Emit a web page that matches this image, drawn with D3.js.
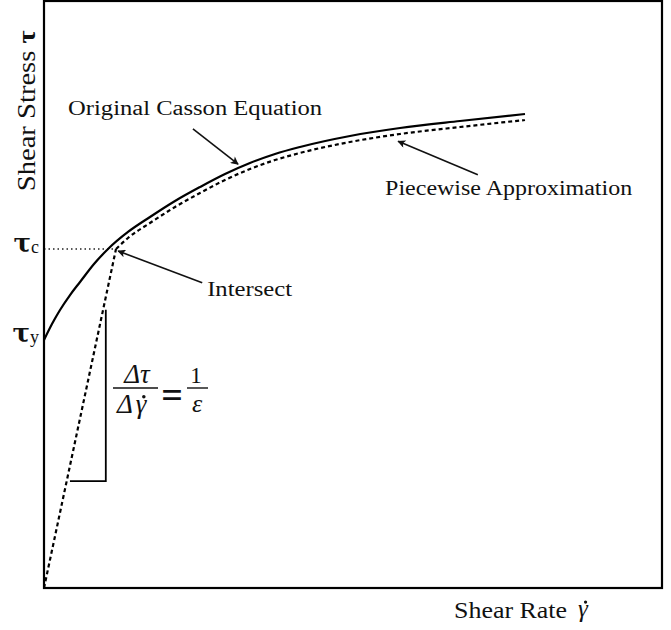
<!DOCTYPE html>
<html>
<head>
<meta charset="utf-8">
<script src="https://cdn.jsdelivr.net/npm/d3@7"></script>
<style>
  html, body { margin: 0; padding: 0; background: #fff; }
  svg { display: block; }
  text { font-family: "Liberation Serif", "Times New Roman", serif; fill: #111; }
</style>
</head>
<body>
<svg id="chart" width="671" height="630"></svg>
<script>
// Shear rate (x) and shear stress (y) in relative units, 0..100
const cassonRate   = [0, 1.29, 2.59, 4.21, 5.83, 8.09, 10.36, 13.59, 17.15, 21.20, 25.24, 29.29, 33.33, 37.38, 41.42, 49.51, 57.61, 67.31, 77.83];
const cassonStress = [42.25, 44.97, 47.36, 49.91, 52.13, 55.20, 57.75, 60.65, 63.20, 65.93, 68.31, 70.53, 72.40, 73.94, 75.13, 77.00, 78.36, 79.56, 80.75];

// Piecewise approximation: linear branch up to the intersect, then the curve
const pieceRate   = [0, 11.65, 13.59, 17.15, 21.20, 25.24, 29.29, 33.33, 37.38, 41.42, 49.51, 57.61, 67.31, 77.83];
const pieceStress = [0, 57.75, 59.63, 62.18, 64.91, 67.29, 69.51, 71.38, 72.91, 74.11, 75.98, 77.34, 78.53, 79.73];

// Named stress levels on the y axis
const tauValues = [42.25, 57.75];
const tauSubs   = ["y", "c"];

// Slope triangle on the linear branch
const triRate   = [4.2, 10.0, 10.0];
const triStress = [18.2, 18.2, 47.4];

const svg = d3.select("#chart");
const plotLeft = 44, plotRight = 662, plotTop = 1, plotBottom = 588;

const x = d3.scaleLinear().domain([0, 100]).range([plotLeft, plotRight]);
const y = d3.scaleLinear().domain([0, 100]).range([plotBottom, plotTop]);

// Arrow marker
svg.append("defs").append("marker")
  .attr("id", "arrow")
  .attr("viewBox", "0 0 10 10")
  .attr("refX", 9).attr("refY", 5)
  .attr("markerWidth", 11).attr("markerHeight", 8)
  .attr("markerUnits", "userSpaceOnUse")
  .attr("orient", "auto")
  .append("path").attr("d", "M0,0 L10,5 L0,10 L2.5,5 Z").attr("fill", "#111");

// Dotted guide from the axis to the intersect
svg.append("line")
  .attr("x1", x(0)).attr("x2", x(pieceRate[1]))
  .attr("y1", y(tauValues[1])).attr("y2", y(tauValues[1]))
  .attr("stroke", "#222").attr("stroke-width", 1.3)
  .attr("stroke-dasharray", "1.5,3");

// Original Casson curve
const casson = cassonRate.map((r, i) => [r, cassonStress[i]]);
svg.append("path")
  .datum(casson)
  .attr("fill", "none").attr("stroke", "#000").attr("stroke-width", 2.2)
  .attr("d", d3.line().x(d => x(d[0])).y(d => y(d[1])).curve(d3.curveMonotoneX));

// Piecewise approximation: straight segment, then curved part
const piece = pieceRate.map((r, i) => [r, pieceStress[i]]);
svg.append("path")
  .datum(piece.slice(0, 2))
  .attr("fill", "none").attr("stroke", "#000").attr("stroke-width", 2.2)
  .attr("stroke-dasharray", "4,3")
  .attr("d", d3.line().x(d => x(d[0])).y(d => y(d[1])));
svg.append("path")
  .datum(piece.slice(1))
  .attr("fill", "none").attr("stroke", "#000").attr("stroke-width", 2.2)
  .attr("stroke-dasharray", "4,3")
  .attr("d", d3.line().x(d => x(d[0])).y(d => y(d[1])).curve(d3.curveMonotoneX));

// Slope triangle
svg.append("path")
  .datum(triRate.map((r, i) => [r, triStress[i]]))
  .attr("fill", "none").attr("stroke", "#000").attr("stroke-width", 1.8)
  .attr("d", d3.line().x(d => x(d[0])).y(d => y(d[1])));

// Frame
svg.append("rect")
  .attr("x", plotLeft).attr("y", plotTop)
  .attr("width", plotRight - plotLeft).attr("height", plotBottom - plotTop)
  .attr("fill", "none").attr("stroke", "#000").attr("stroke-width", 2.2);

// Y axis: named stress levels
const yAxis = svg.append("g")
  .attr("transform", `translate(${plotLeft},0)`)
  .call(d3.axisLeft(y).tickValues(tauValues).tickSize(0).tickPadding(5).tickFormat(""));
yAxis.select(".domain").remove();
yAxis.selectAll(".tick text").each(function(d, i) {
  const t = d3.select(this)
    .attr("text-anchor", "end")
    .attr("dy", null)
    .attr("y", 2);
  t.append("tspan").text("τ").style("font-size", "26px").style("font-family", "DejaVu Serif").style("font-weight", "bold");
  t.append("tspan").text(tauSubs[i]).style("font-size", "18px").attr("dy", 1);
});

// Axis titles
const yt = svg.append("text")
  .attr("transform", `translate(35, ${y(81.3)}) rotate(-90)`)
  .attr("text-anchor", "middle")
  .style("font-size", "25px")
  .attr("textLength", 161).attr("lengthAdjust", "spacingAndGlyphs");
yt.append("tspan").text("Shear Stress ");
yt.append("tspan").text("τ").style("font-weight", "bold");

svg.append("text")
  .attr("x", 454).attr("y", 618)
  .style("font-size", "24px")
  .attr("textLength", 113).attr("lengthAdjust", "spacingAndGlyphs")
  .text("Shear Rate");

// Italic gamma with an overdot (rate symbol)
function gammaDot(g, cx, baseline, size) {
  const t = g.append("text")
    .attr("x", cx).attr("y", baseline).attr("text-anchor", "middle")
    .style("font-size", size + "px").style("font-style", "italic")
    .text("γ");
  const b = t.node().getBBox();
  g.append("circle")
    .attr("cx", b.x + b.width * 0.68)
    .attr("cy", baseline - size * 0.6)
    .attr("r", size * 0.065)
    .attr("fill", "#111");
}
gammaDot(svg, 583, 617, 25);

// Annotations
const notes = [
  { text: "Original Casson Equation", tx: 3.9, ty: 80.6, w: 254, a: [24.1, 78.2, 31.4, 72.2] },
  { text: "Piecewise Approximation", tx: 55.2, ty: 67.0, w: 247, a: [70.2, 70.4, 57.3, 76.1] },
  { text: "Intersect", tx: 26.4, ty: 49.7, w: 85, a: [25.6, 52.0, 12.0, 57.4] }
];
notes.forEach(n => {
  svg.append("text")
    .attr("x", x(n.tx)).attr("y", y(n.ty))
    .style("font-size", "20px")
    .attr("textLength", n.w).attr("lengthAdjust", "spacingAndGlyphs")
    .text(n.text);
  svg.append("line")
    .attr("x1", x(n.a[0])).attr("y1", y(n.a[1]))
    .attr("x2", x(n.a[2])).attr("y2", y(n.a[3]))
    .attr("stroke", "#111").attr("stroke-width", 1.6)
    .attr("marker-end", "url(#arrow)");
});

// Slope formula  Δτ/Δγ̇ = 1/ε
const f = svg.append("g");
f.append("text").attr("x", 137).attr("y", 383).attr("text-anchor", "middle")
  .style("font-size", "27px").style("font-style", "italic").text("Δτ");
f.append("line").attr("x1", 113).attr("x2", 158).attr("y1", 388).attr("y2", 388)
  .attr("stroke", "#111").attr("stroke-width", 1.4);
f.append("text").attr("x", 125).attr("y", 413).attr("text-anchor", "middle")
  .style("font-size", "27px").style("font-style", "italic").text("Δ");
gammaDot(f, 141, 413, 27);
f.append("text").attr("x", 172).attr("y", 408).attr("text-anchor", "middle")
  .style("font-size", "38px").style("font-weight", "bold").text("=");
f.append("text").attr("x", 196).attr("y", 383).attr("text-anchor", "middle")
  .style("font-size", "23px").text("1");
f.append("line").attr("x1", 187).attr("x2", 208).attr("y1", 388).attr("y2", 388)
  .attr("stroke", "#111").attr("stroke-width", 1.4);
f.append("text").attr("x", 197).attr("y", 412).attr("text-anchor", "middle")
  .style("font-size", "26px").style("font-style", "italic").text("ε");
</script>
</body>
</html>
